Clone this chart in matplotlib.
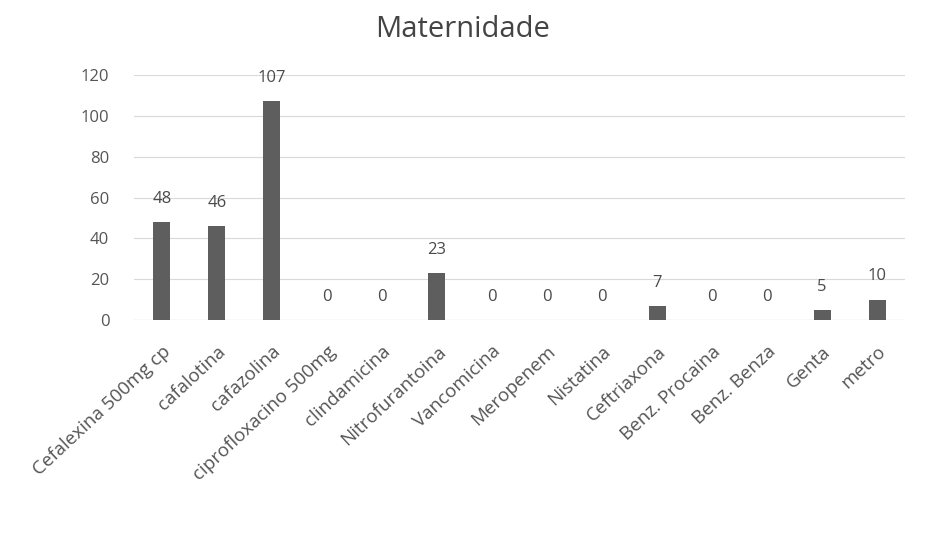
import matplotlib
matplotlib.use("Agg")
import matplotlib.pyplot as plt

categories = ["Cefalexina 500mg cp", "cafalotina", "cafazolina", "ciprofloxacino 500mg",
              "clindamicina", "Nitrofurantoina", "Vancomicina", "Meropenem", "Nistatina",
              "Ceftriaxona", "Benz. Procaina", "Benz. Benza", "Genta", "metro"]
values = [48, 46, 107, 0, 0, 23, 0, 0, 0, 7, 0, 0, 5, 10]
yticks = [0, 20, 40, 60, 80, 100, 120]

plt.rcParams['font.family'] = ['Open Sans', 'DejaVu Sans']

fig = plt.figure(figsize=(9.26, 5.39), dpi=100)
ax = fig.add_axes([0.145, 0.406, 0.832, 0.455])
x = range(len(categories))
ax.bar(x, values, width=0.31, color="#5e5e5e", zorder=3)
for xi, v in zip(x, values):
    ax.annotate(str(v), (xi, v), xytext=(0, 11), textcoords="offset points",
                ha="center", va="bottom", fontsize=12, color="#4a4a4a")

ax.set_ylim(0, 120)
ax.set_xlim(-0.5, len(categories) - 0.5)
ax.set_yticks(yticks)
ax.set_yticklabels([str(t) for t in yticks], fontsize=12, color="#555555")
ax.yaxis.grid(True, color="#d9d9d9", linewidth=0.8, zorder=0)
ax.set_xticks(list(x))
ax.set_xticklabels(categories, rotation=43, ha="right", rotation_mode="anchor",
                   fontsize=13.5, color="#555555")
ax.tick_params(axis="x", length=0, pad=16)
ax.tick_params(axis="y", length=0, pad=18)
for s in ax.spines.values():
    s.set_visible(False)
ax.axhline(0, color="#bfbfbf", linewidth=0.8, zorder=2)
fig.suptitle("Maternidade", y=0.972, fontsize=21, color="#444444")
fig.savefig("out.png", dpi=100, facecolor="white")
